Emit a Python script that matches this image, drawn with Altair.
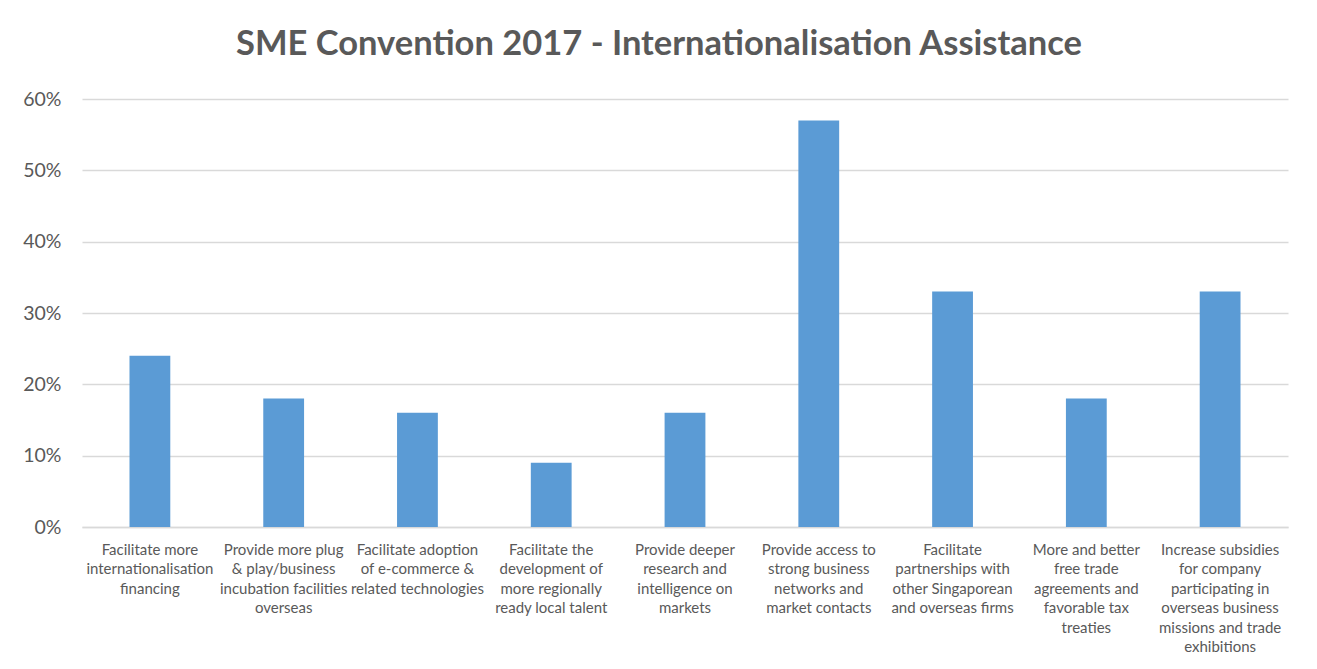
import altair as alt
import pandas as pd

categories = [
    "Facilitate more|internationalisation|financing",
    "Provide more plug|& play/business|incubation facilities|overseas",
    "Facilitate adoption|of e-commerce &|related technologies",
    "Facilitate the|development of|more regionally|ready local talent",
    "Provide deeper|research and|intelligence on|markets",
    "Provide access to|strong business|networks and|market contacts",
    "Facilitate|partnerships with|other Singaporean|and overseas firms",
    "More and better|free trade|agreements and|favorable tax|treaties",
    "Increase subsidies|for company|participating in|overseas business|missions and trade|exhibitions",
]
values = [0.24, 0.18, 0.16, 0.09, 0.16, 0.57, 0.33, 0.18, 0.33]

df = pd.DataFrame({"cat": categories, "val": values})

FONT = "Lato"
GRAY = "#595959"

chart = alt.Chart(df).mark_bar(color="#5b9bd5").encode(
    x=alt.X("cat:N", sort=categories, title=None,
            scale=alt.Scale(paddingInner=0.695, paddingOuter=0.355),
            axis=alt.Axis(labelAngle=0, labelExpr="split(datum.label, '|')",
                          labelFont=FONT, labelFontSize=15, labelColor=GRAY,
                          labelLineHeight=19.5, labelPadding=15, labelLimit=200,
                          ticks=False, domainColor="#d9d9d9", domainWidth=1.5,
                          labelBaseline="top")),
    y=alt.Y("val:Q", title=None,
            scale=alt.Scale(domain=[0, 0.6]),
            axis=alt.Axis(format=".0%", values=[0, 0.1, 0.2, 0.3, 0.4, 0.5, 0.6],
                          labelFont=FONT, labelFontSize=19.5, labelColor=GRAY,
                          ticks=False, domain=False, gridColor="#d9d9d9",
                          gridWidth=1.5, labelPadding=21)),
).properties(
    width=1206, height=428,
    title=alt.TitleParams("SME Convention 2017 - Internationalisation Assistance",
                          font=FONT, fontSize=34.5, fontWeight="bold", color=GRAY,
                          anchor="middle", dx=-26, offset=27),
    autosize=alt.AutoSizeParams(type="none"),
    padding={"left": 74, "top": 91, "right": 21, "bottom": 130},
).configure(background="white", view=alt.ViewConfig(stroke=None))

chart.save("out.html", embed_options={"renderer": "svg", "actions": False})
